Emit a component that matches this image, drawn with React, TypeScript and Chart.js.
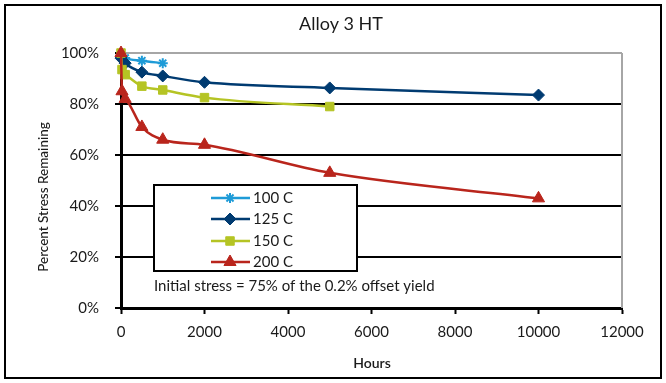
import React, { useEffect, useRef } from "react";
import { Chart, registerables } from "chart.js";
import { drawPoint } from "chart.js/helpers";

Chart.register(...registerables);

const titleText = "Alloy 3 HT";
const xTitle = "Hours";
const yTitle = "Percent Stress Remaining";
const noteText = "Initial stress = 75% of the 0.2% offset yield";

const seriesNames = ["100 C", "125 C", "150 C", "200 C"];
const seriesColors = ["#1E9BD7", "#003B71", "#B5C424", "#B9251C"];
const seriesMarkers = ["star", "rectRot", "rect", "triangle"];

const hours100 = [0, 100, 500, 1000];
const pct100 = [99, 98, 97, 96];

const hours125 = [0, 100, 500, 1000, 2000, 5000, 10000];
const pct125 = [98, 96, 92.5, 91, 88.5, 86.3, 83.5];

const hours150 = [0, 24, 100, 500, 1000, 2000, 5000];
const pct150 = [100, 93.5, 91.5, 87, 85.5, 82.5, 79];

const hours200 = [0, 24, 100, 500, 1000, 2000, 5000, 10000];
const pct200 = [100, 85, 82, 71, 66, 64, 53, 43];

const xTicks = [0, 2000, 4000, 6000, 8000, 10000, 12000];
const yTicks = [0, 20, 40, 60, 80, 100];

const FONT = "Lato, 'Open Sans', sans-serif";

function pts(xs: number[], ys: number[]) {
  return xs.map((x, i) => ({ x, y: ys[i] }));
}

export default function App() {
  const ref = useRef<HTMLCanvasElement | null>(null);

  useEffect(() => {
    document.body.style.margin = "0";
    const canvas = ref.current!;
    const allX = [hours100, hours125, hours150, hours200];
    const allY = [pct100, pct125, pct150, pct200];
    const radii = [5, 6, 6, 7];

    const datasets = [3, 2, 1, 0].map((i) => ({
      label: seriesNames[i],
      data: pts(allX[i], allY[i]),
      borderColor: seriesColors[i],
      backgroundColor: seriesColors[i],
      pointStyle: seriesMarkers[i] as any,
      pointRadius: radii[i],
      pointBorderWidth: i === 0 ? 2 : 1,
      pointBorderColor: seriesColors[i],
      borderWidth: 2.5,
      showLine: true,
      clip: false,
      tension: 0.15,
      cubicInterpolationMode: "monotone" as const,
    }));

    const decor = {
      id: "decor",
      afterDraw(chart: any) {
        const ctx = chart.ctx as CanvasRenderingContext2D;
        const area = chart.chartArea;
        ctx.save();
        ctx.strokeStyle = "#A6A6A6";
        ctx.lineWidth = 2;
        ctx.beginPath();
        ctx.moveTo(area.right, area.top);
        ctx.lineTo(area.right, area.bottom);
        ctx.stroke();
        ctx.strokeStyle = "#000";
        ctx.lineWidth = 2;
        ctx.strokeRect(5, 5, 656, 373);
        ctx.fillStyle = "#1a1a1a";
        ctx.textAlign = "center";
        ctx.textBaseline = "middle";
        ctx.font = `18px ${FONT}`;
        ctx.fillText(titleText, 341, 24);
        ctx.font = `600 14px ${FONT}`;
        ctx.fillText(xTitle, 372, 363);
        ctx.save();
        ctx.translate(44, 197);
        ctx.rotate(-Math.PI / 2);
        ctx.font = `500 13.5px ${FONT}`;
        ctx.fillText(yTitle, 0, 0);
        ctx.restore();
        const bx = 154, by = 185, bw = 203, bh = 86;
        ctx.fillStyle = "#fff";
        ctx.fillRect(bx, by, bw, bh);
        ctx.strokeStyle = "#000";
        ctx.lineWidth = 2;
        ctx.strokeRect(bx, by, bw, bh);
        const rowsY = [198, 219, 241, 262];
        for (let i = 0; i < 4; i++) {
          const y = rowsY[i];
          ctx.strokeStyle = seriesColors[i];
          ctx.lineWidth = 2.5;
          ctx.beginPath();
          ctx.moveTo(211, y);
          ctx.lineTo(250, y);
          ctx.stroke();
          ctx.fillStyle = seriesColors[i];
          ctx.strokeStyle = seriesColors[i];
          ctx.lineWidth = i === 0 ? 2 : 1;
          drawPoint(
            ctx,
            { pointStyle: seriesMarkers[i], radius: radii[i], borderWidth: i === 0 ? 2 : 1, rotation: 0 } as any,
            230,
            y
          );
          ctx.fillStyle = "#1a1a1a";
          ctx.textAlign = "left";
          ctx.textBaseline = "middle";
          ctx.font = `15px ${FONT}`;
          ctx.fillText(seriesNames[i], 253, y);
        }
        ctx.fillStyle = "#1a1a1a";
        ctx.textAlign = "left";
        ctx.font = `15px ${FONT}`;
        ctx.fillText(noteText, 154, 286);
        ctx.restore();
      },
    };

    const chart = new Chart(canvas, {
      type: "scatter",
      data: { datasets },
      options: {
        animation: false,
        responsive: false,
        devicePixelRatio: 1,
        layout: { padding: { top: 53, right: 44, left: 0, bottom: 0 } },
        plugins: { legend: { display: false }, tooltip: { enabled: false }, title: { display: false } },
        scales: {
          x: {
            type: "linear",
            min: 0,
            max: 12000,
            afterBuildTicks: (s: any) => {
              s.ticks = xTicks.map((v) => ({ value: v }));
            },
            afterFit: (s: any) => {
              s.height = 75;
            },
            ticks: {
              color: "#1a1a1a",
              font: { family: FONT, size: 15 },
              padding: 9,
              maxRotation: 0,
              callback: (v: any) => String(v),
            },
            grid: {
              drawOnChartArea: false,
              drawTicks: true,
              tickLength: 6,
              tickColor: "#000",
              tickWidth: 2,
            },
            border: { color: "#000", width: 3 },
          },
          y: {
            type: "linear",
            min: 0,
            max: 100,
            afterBuildTicks: (s: any) => {
              s.ticks = yTicks.map((v) => ({ value: v }));
            },
            afterFit: (s: any) => {
              s.width = 121;
            },
            ticks: {
              color: "#1a1a1a",
              font: { family: FONT, size: 15 },
              padding: 16,
              callback: (v: any) => v + "%",
            },
            grid: {
              color: (c: any) => (c.tick && c.tick.value === 100 ? "#A6A6A6" : "#000"),
              lineWidth: 2,
              tickLength: 6,
              tickColor: "#000",
              tickWidth: 2,
            },
            border: { color: "#000", width: 3 },
          },
        },
      },
      plugins: [decor],
    } as any);

    return () => chart.destroy();
  }, []);

  return (
    <div style={{ position: "fixed", left: 0, top: 0 }}>
      <canvas ref={ref} width={666} height={383} style={{ width: 666, height: 383, display: "block" }} />
    </div>
  );
}
